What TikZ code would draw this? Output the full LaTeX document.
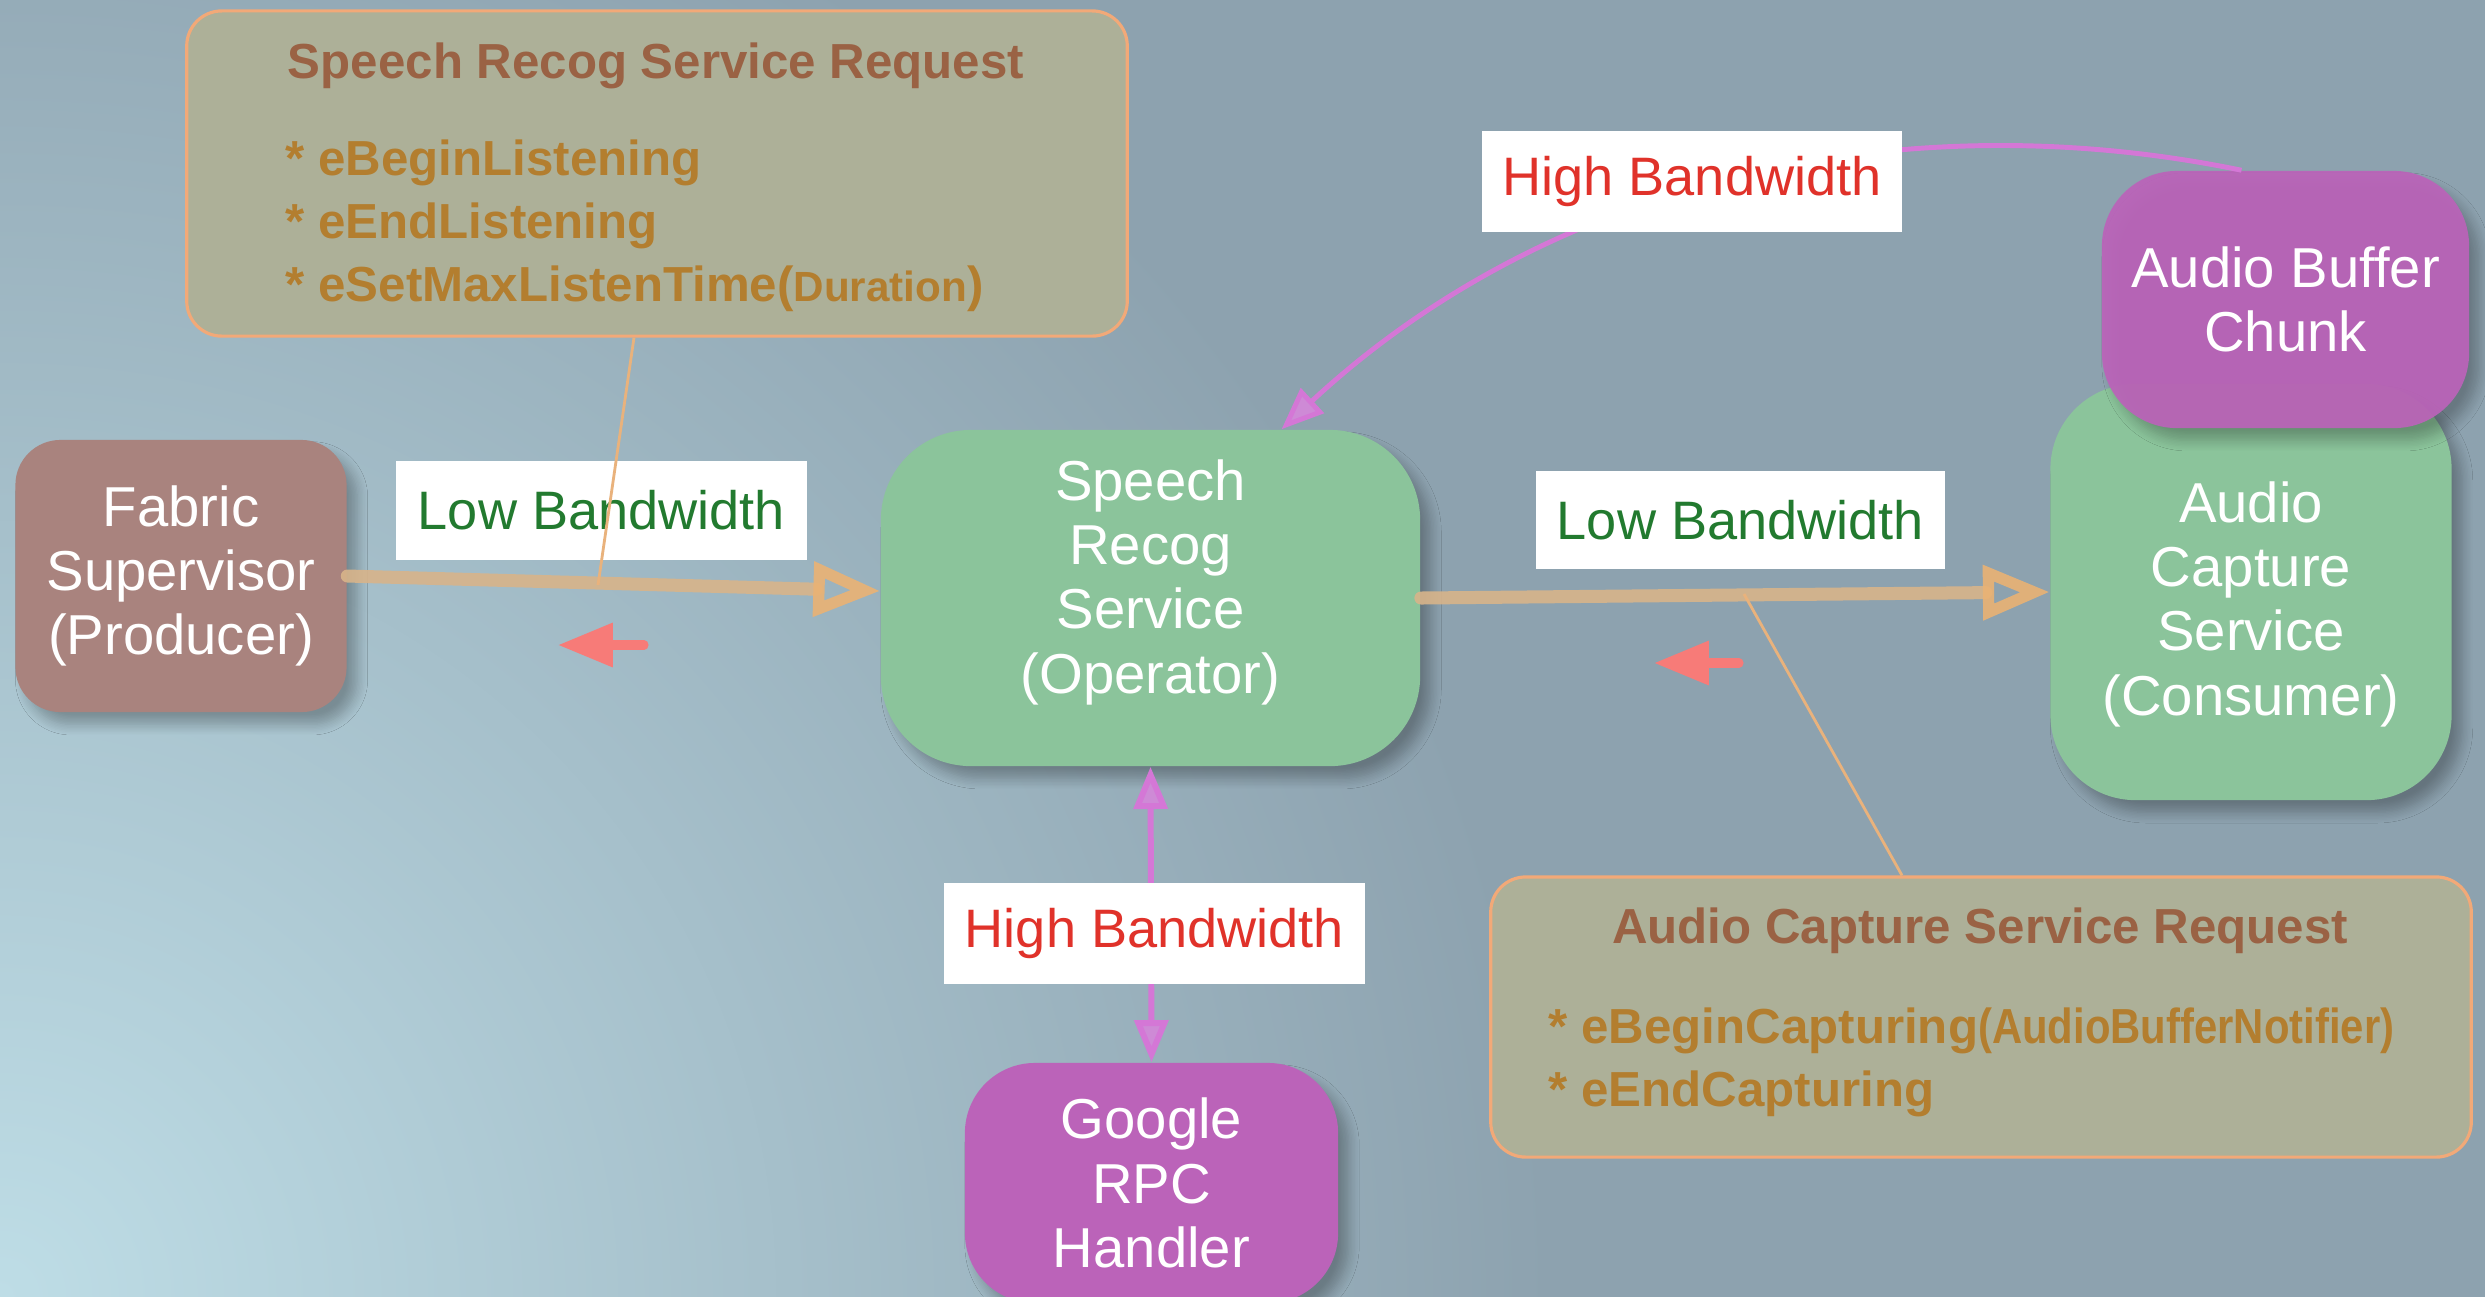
\documentclass[tikz,border=0pt]{standalone}
\usepackage{fontspec}
\usepackage{graphicx}
\setmainfont{Liberation Sans}
\usetikzlibrary{arrows.meta,shadows.blur}

\definecolor{bgc}{HTML}{8DA2AF}
\definecolor{glowc}{HTML}{BEDDE6}
\definecolor{fabc}{HTML}{A9837E}
\definecolor{greenc}{HTML}{8BC49B}
\definecolor{magc}{HTML}{BB63B9}
\definecolor{reqfill}{HTML}{ADB098}
\definecolor{reqborder}{HTML}{F2A978}
\definecolor{titlec}{HTML}{9A6244}
\definecolor{itemc}{HTML}{B37E2F}
\definecolor{lowc}{HTML}{227A2F}
\definecolor{highc}{HTML}{E0322A}
\definecolor{tanc}{HTML}{D8B48A}
\definecolor{tanhead}{HTML}{EAB274}
\definecolor{thinc}{HTML}{E9B27C}
\definecolor{magline}{HTML}{D477D6}
\definecolor{magfill}{HTML}{CE8AD6}
\definecolor{redc}{HTML}{F77B78}

\tikzset{
  svc/.style={draw=none, inner sep=0pt, text=white, align=center,
    font=\fontsize{16}{18.3}\selectfont,
    blur shadow={shadow xshift=3pt, shadow yshift=-3.5pt, shadow blur radius=3pt, shadow blur steps=8, shadow opacity=28}},
  svctext/.style={inner sep=0pt, text=white, align=center, font=\fontsize{16}{18.3}\selectfont},
  lbl/.style={fill=white, draw=none, inner sep=0pt, font=\fontsize{15.4}{17}\selectfont},
  reqbox/.style={fill=reqfill, draw=reqborder, line width=0.9pt, rounded corners=0.35cm, inner sep=0pt},
  reqtitle/.style={inner sep=0pt, text=titlec, font=\fontsize{14}{16}\selectfont\bfseries},
  reqitem/.style={inner sep=0pt, text=itemc, font=\fontsize{14}{16}\selectfont\bfseries},
  lowarrow/.style={draw=tanc, draw opacity=0.9, line width=3.7pt, line cap=round,
    -{Triangle[open, length=19pt, width=15pt, line width=3.2pt, color=tanhead]}},
  hiarrow/.style={draw=magline, line width=1.7pt,
    {Triangle[length=12pt, width=9.5pt, fill=magfill]}-{Triangle[length=12pt, width=9.5pt, fill=magfill]}},
  hicurve/.style={draw=magline, line width=1.4pt,
    -{Triangle[length=12pt, width=9.5pt, fill=magfill]}},
  callout/.style={draw=thinc, line width=0.8pt},
  redarrow/.style={draw=redc, line width=2.6pt, line cap=round,
    -{Triangle[length=15.6pt, width=12pt, fill=redc]}}
}

\begin{document}
\begin{tikzpicture}[x=0.01cm,y=-0.01cm]
\useasboundingbox (0,0) rectangle (2485,1296);
% background
\fill[bgc] (-20,-20) rectangle (2505,1316);
\begin{scope}
  \clip (-20,-20) rectangle (2505,1316);
  \shade[inner color=glowc, outer color=bgc] (0,1296) circle (15.5cm);
\end{scope}

% service nodes
\node[svc, fill=fabc, rounded corners=0.45cm, minimum width=3.31cm, minimum height=2.72cm] (fab) at (181,576) {Fabric\\Supervisor\\(Producer)};
\node[svc, fill=greenc, rounded corners=0.9cm, minimum width=5.39cm, minimum height=3.36cm] (sp) at (1150.5,598) {};
\node[svctext] (sptext) at (1150.5,582) {Speech\\Recog\\Service\\(Operator)};
\node[svc, fill=greenc, rounded corners=0.85cm, minimum width=4.01cm, minimum height=4.16cm] (acs) at (2251,592) {};
\node[svctext] (acstext) at (2251,604) {Audio\\Capture\\Service\\(Consumer)};
\node[svc, fill=magc, fill opacity=0.93, text opacity=1, rounded corners=0.75cm, minimum width=3.67cm, minimum height=2.57cm] (abc) at (2285.5,299.5) {Audio Buffer\\Chunk};
\node[svc, fill=magc, rounded corners=0.7cm, minimum width=3.73cm, minimum height=2.40cm] (goo) at (1151.5,1183) {Google\\RPC\\Handler};

% connectors
\draw[lowarrow] (fab.east) -- ([yshift=0.07cm]sp.west);
\draw[lowarrow] (sp.east) -- (acs.west);
\draw[hiarrow] (sp.south) -- (goo.north);
\draw[hicurve] ([xshift=-0.44cm]abc.north) .. controls (1900,100) and (1550,180) .. ([xshift=1.31cm]sp.north);

% labels
\node[lbl, text=lowc, minimum width=4.11cm, minimum height=0.99cm] (lb1) at (601.5,510.5) {Low Bandwidth};
\node[lbl, text=lowc, minimum width=4.09cm, minimum height=0.98cm] (lb2) at (1740.5,520) {Low Bandwidth};
\node[lbl, text=highc, minimum width=4.20cm, minimum height=1.01cm] (hb1) at (1692,181.5) {High Bandwidth};
\node[lbl, text=highc, minimum width=4.21cm, minimum height=1.01cm] (hb2) at (1154.5,933.5) {High Bandwidth};

% request boxes
\node[reqbox, minimum width=9.40cm, minimum height=3.25cm] (req1) at (657,173.5) {};
\node[reqtitle, anchor=base] (req1t) at (656,78) {Speech Recog Service Request};
\node[reqitem, anchor=base west] (req1a) at (285,175) {* eBeginListening};
\node[reqitem, anchor=base west] (req1b) at (285,238) {* eEndListening};
\node[reqitem, anchor=base west] (req1c) at (285,301) {* eSetMaxListenTime({\fontsize{12}{12}\selectfont Duration})};

\node[reqbox, minimum width=9.80cm, minimum height=2.80cm] (req2) at (1981,1017) {};
\node[reqtitle, anchor=base] (req2t) at (1980,943) {Audio Capture Service Request};
\node[reqitem, anchor=base west] (req2a) at (1548,1043) {* eBeginCapturing\scalebox{0.85}[1]{(AudioBufferNotifier)}};
\node[reqitem, anchor=base west] (req2b) at (1548,1106) {* eEndCapturing};

% callout lines
\coordinate (c1) at (598,585);
\coordinate (c2) at (1744,594);
\draw[callout] ([xshift=-0.23cm]req1.south) -- (c1);
\draw[callout] (c2) -- ([xshift=-0.79cm]req2.north);

% red arrows
\coordinate (r1a) at (644,645);
\coordinate (r1b) at (558,645);
\coordinate (r2a) at (1739,663);
\coordinate (r2b) at (1654,663);
\draw[redarrow] (r1a) -- (r1b);
\draw[redarrow] (r2a) -- (r2b);
\end{tikzpicture}
\end{document}
